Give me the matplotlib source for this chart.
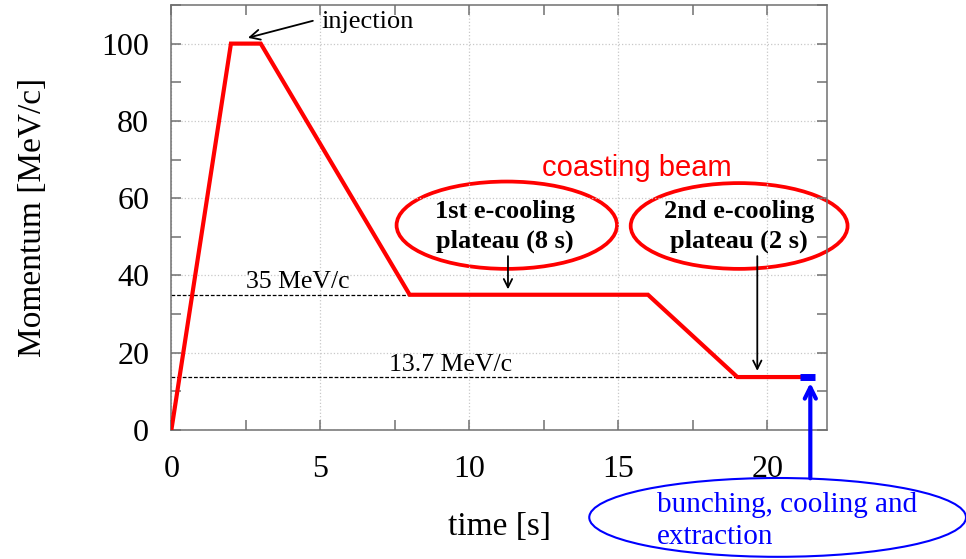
import matplotlib
matplotlib.use("Agg")
import matplotlib.pyplot as plt
from matplotlib.patches import Ellipse
from matplotlib.ticker import MultipleLocator

# momentum ramp (time in s, momentum in MeV/c)
time_s = [0, 2, 3, 8, 16, 19, 21.1]
momentum = [0, 100, 100, 35, 35, 13.7, 13.7]

# extraction section (blue)
extract_t = [21.1, 21.6]
extract_p = [13.7, 13.7]

# reference levels
ref_levels = [35, 13.7]
ref_ends = [8, 19]
ref_labels = ["35 MeV/c", "13.7 MeV/c"]
ref_label_pos = [(2.5, 36.8), (7.3, 15.2)]

serif = "Liberation Serif"
sans = "Liberation Sans"

fig = plt.figure(figsize=(9.66, 5.59), dpi=100)
ax = fig.add_axes([0.1774, 0.2308, 0.6784, 0.7603])

# reference dashed lines
for lev, end, lab, pos in zip(ref_levels, ref_ends, ref_labels, ref_label_pos):
    ax.plot([0, end], [lev, lev], color="black", ls="--", lw=0.9, dashes=(3, 1.5))
    ax.text(pos[0], pos[1], lab, fontsize=18.5, family=serif, ha="left", va="baseline")

ax.plot(time_s, momentum, color="#ff0000", lw=3, solid_joinstyle="miter", zorder=5)
ax.plot(extract_t, extract_p, color="#0000ff", lw=5, solid_capstyle="butt", zorder=6)

ax.set_xlim(0, 22)
ax.set_ylim(0, 110)
ax.xaxis.set_major_locator(MultipleLocator(5))
ax.xaxis.set_minor_locator(MultipleLocator(2.5))
ax.yaxis.set_major_locator(MultipleLocator(20))
ax.yaxis.set_minor_locator(MultipleLocator(10))
ax.set_yticks([0, 20, 40, 60, 80, 100])

ax.grid(True, which="major", color="#c8c8c8", ls=":", lw=0.9)
ax.tick_params(which="both", direction="in", top=True, right=True,
               color="#707070", width=1.1, length=7)
ax.tick_params(axis="x", pad=18)
ax.tick_params(axis="y", pad=16)
for lbl in ax.get_xticklabels() + ax.get_yticklabels():
    lbl.set_family(serif)
    lbl.set_fontsize(23)
for sp in ax.spines.values():
    sp.set_color("#707070")
    sp.set_linewidth(1.1)

ax.set_xlabel("time [s]", fontsize=24, family=serif, labelpad=20)
ax.set_ylabel("Momentum [MeV/c]", fontsize=24, family=serif, labelpad=38)

# injection
ax.annotate("", xy=(2.57, 101.5), xytext=(4.75, 105.9),
            arrowprops=dict(arrowstyle="->", color="black", lw=1.3,
                            mutation_scale=18, shrinkA=0, shrinkB=0))
ax.text(5.05, 104, "injection", fontsize=19, family=serif, ha="left", va="baseline")

ax.text(15.64, 67.8, "coasting beam", fontsize=21, family=sans, color="#ff0000",
        ha="center", va="center")

# e-cooling plateaus
ax.add_patch(Ellipse((11.26, 53.0), 7.4, 22.6, fill=False, ec="#ff0000", lw=2.7))
ax.add_patch(Ellipse((19.06, 52.8), 7.28, 22.2, fill=False, ec="#ff0000", lw=2.7,
                     clip_on=False))
ax.text(11.2, 52.6, "1st e-cooling\nplateau (8 s)", fontsize=19, family=serif,
        weight="bold", ha="center", va="center", linespacing=1.35)
ax.text(19.06, 52.6, "2nd e-cooling\nplateau (2 s)", fontsize=19, family=serif,
        weight="bold", ha="center", va="center", linespacing=1.35)
ax.annotate("", xy=(11.3, 36.4), xytext=(11.3, 45),
            arrowprops=dict(arrowstyle="->", color="black", lw=1.3,
                            mutation_scale=15, shrinkA=0, shrinkB=0))
ax.annotate("", xy=(19.67, 15.3), xytext=(19.67, 45),
            arrowprops=dict(arrowstyle="->", color="black", lw=1.3,
                            mutation_scale=15, shrinkA=0, shrinkB=0))

# extraction callout (outside the axes)
ax.annotate("", xy=(21.45, 12.2), xytext=(21.45, -12.5), annotation_clip=False,
            arrowprops=dict(arrowstyle="->", color="#0000ff", lw=3,
                            mutation_scale=20, shrinkA=0, shrinkB=0))
fig.patches.append(Ellipse((0.805, 0.0744), 0.390, 0.141, fill=False, ec="#0000ff",
                           lw=1.5, transform=fig.transFigure, figure=fig))
fig.text(656.7 / 966, 1 - 520.5 / 559, "bunching, cooling and\nextraction", fontsize=21,
         family=serif, color="#0000ff", ha="left", va="center", linespacing=1.3)

fig.savefig("out.png", dpi=100)
